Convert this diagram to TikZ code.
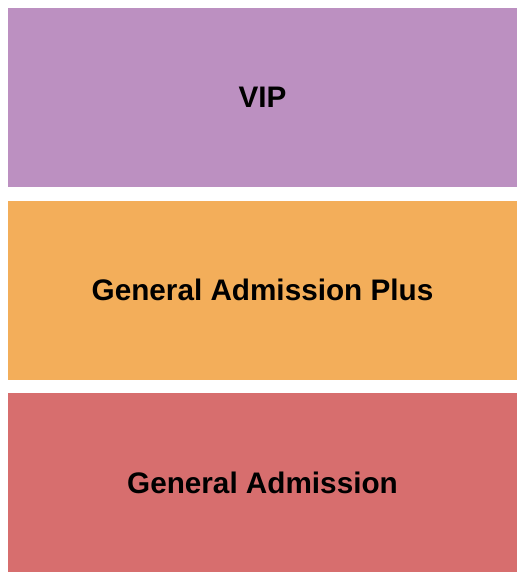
\documentclass[tikz,border=0pt]{standalone}
\usepackage{fontspec}
\setmainfont{Liberation Sans}
\usetikzlibrary{positioning}
\definecolor{vipcol}{RGB}{188,144,193}
\definecolor{gapcol}{RGB}{243,174,90}
\definecolor{gacol}{RGB}{215,110,110}
\tikzstyle{section} = [rectangle, minimum width=509pt, minimum height=179pt, inner sep=0pt, text centered, font=\fontsize{29.7}{34}\selectfont\bfseries]

\begin{document}
\begin{tikzpicture}
[x=1pt, y=-1pt, node distance=192.5pt]
\useasboundingbox (0,0) rectangle (525,580);

\node (vip) [section, fill=vipcol] at (262.5,97.5) {VIP};
\node (gaplus) [section, fill=gapcol, below of = vip] {General Admission Plus};
\node (ga) [section, fill=gacol, below of = gaplus] {General Admission};
\end{tikzpicture}
\end{document}
